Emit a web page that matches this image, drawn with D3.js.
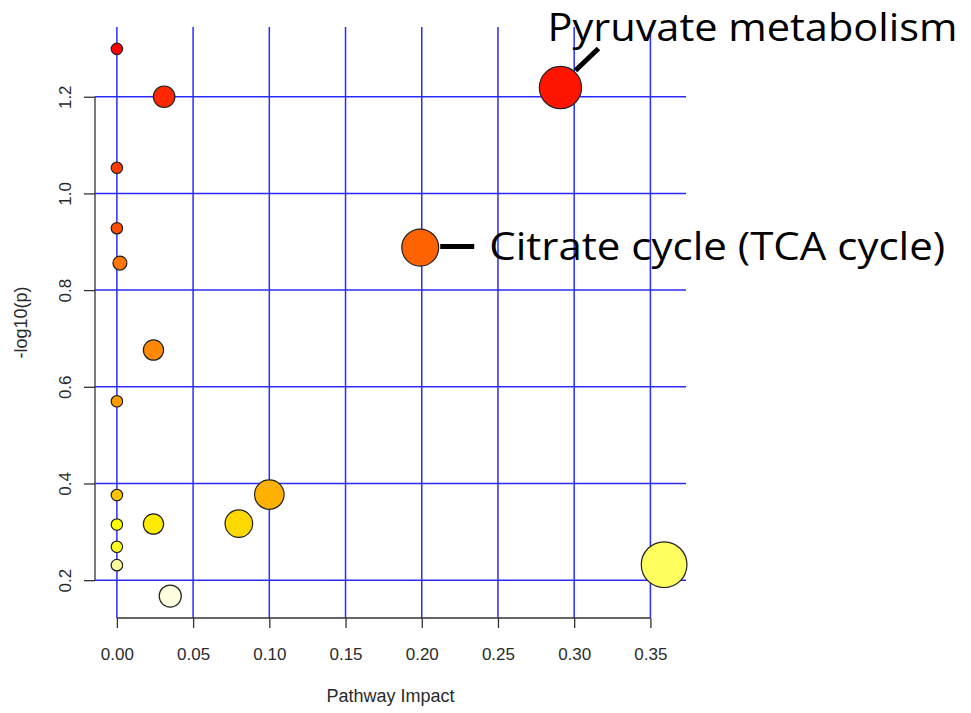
<!DOCTYPE html>
<html>
<head>
<meta charset="utf-8">
<script src="https://cdn.jsdelivr.net/npm/d3@7"></script>
<style>
  body { margin: 0; background: #fff; }
  svg { display: block; }
  .tick text { font-family: "Liberation Sans", Arial, sans-serif; font-size: 17px; fill: #2a2a2a; }
  .tick line { stroke: #333; stroke-width: 1.3; }
</style>
</head>
<body>
<div id="main"></div>
<script>
// pathways, sorted by p value (most significant first) like the metaboanalyst output
const pathways = ["", "Pyruvate metabolism", "", "", "", "Citrate cycle (TCA cycle)", "", "", "",
                  "", "", "", "", "", "", "", "", ""];
const impact  = [0, 0.291, 0.031, 0, 0, 0.199, 0.002, 0.024, 0, 0.100, 0, 0.080, 0.024, 0, 0, 0.359, 0, 0.035];
const negLogP = [1.299, 1.219, 1.200, 1.053, 0.928, 0.888, 0.856, 0.676, 0.570, 0.377, 0.376, 0.317, 0.316, 0.315, 0.269, 0.232, 0.231, 0.167];

const xTicks = [0, 0.05, 0.10, 0.15, 0.20, 0.25, 0.30, 0.35];
const yTicks = [0.2, 0.4, 0.6, 0.8, 1.0, 1.2];

// hand placed callouts (offsets from the point, in px)
const callouts = {
  "Pyruvate metabolism":       { line: [15, -17, 38, -39], text: [-13, -47], len: 410 },
  "Citrate cycle (TCA cycle)": { line: [20, -1, 54, -1],   text: [69, 12],   len: 456 }
};

const width = 971;
const height = 713;
const plot = { left: 95, right: 686, top: 27, bottom: 618 };

// R's heat.colors(n)
function heatColors(n) {
  const j = Math.floor(n / 4), i = n - j;
  const out = [];
  for (let k = 0; k < i; k++) out.push(d3.hsl(60 * k / (i - 1), 1, 0.5).formatHex());
  for (let k = 0; k < j; k++) {
    const from = 1 - 1 / (2 * j), to = 1 / (2 * j);
    const s = j === 1 ? from : from + (to - from) * k / (j - 1);
    out.push(d3.hsl(60, 1, 1 - s / 2).formatHex());
  }
  return out;
}

const data = impact.map((d, i) => ({ name: pathways[i], x: d, y: negLogP[i] }));
const colors = heatColors(data.length);

// R pads the data range by 4% on each side
const pad = (ext) => { const r = ext[1] - ext[0]; return [ext[0] - 0.04 * r, ext[1] + 0.04 * r]; };

const x = d3.scaleLinear().domain(pad(d3.extent(impact))).range([plot.left, plot.right]);
const y = d3.scaleLinear().domain(pad(d3.extent(negLogP))).range([plot.bottom, plot.top]);

// circle radius in x units, sqrt of impact
const sq = impact.map(Math.sqrt);
const sqExt = d3.extent(sq);
const rData = d3.scaleLinear().domain(sqExt)
  .range([(sqExt[1] - sqExt[0]) / 160, (sqExt[1] - sqExt[0]) / 40]);
const rPx = (d) => x(rData(Math.sqrt(d))) - x(0);

const svg = d3.select('#main')
  .append('svg')
  .attr('width', width)
  .attr('height', height);

// blue grid
const grid = svg.append('g').attr('stroke', '#2b2bff').attr('stroke-width', 1.5);
grid.selectAll('.gx')
  .data(xTicks)
  .enter()
  .append('line')
  .attr('x1', (d) => x(d)).attr('x2', (d) => x(d))
  .attr('y1', plot.top).attr('y2', plot.bottom);
grid.selectAll('.gy')
  .data(yTicks)
  .enter()
  .append('line')
  .attr('y1', (d) => y(d)).attr('y2', (d) => y(d))
  .attr('x1', plot.left).attr('x2', plot.right);

// axes, R style: line only between first and last tick
const xAxis = svg.append('g')
  .attr('transform', `translate(0,${plot.bottom})`)
  .call(d3.axisBottom(x).tickValues(xTicks).tickSize(10).tickFormat(d3.format('.2f')));
xAxis.select('.domain').remove();
xAxis.selectAll('.tick text').attr('y', 30);
xAxis.append('line')
  .attr('x1', x(xTicks[0])).attr('x2', x(xTicks[xTicks.length - 1]))
  .attr('stroke', '#333').attr('stroke-width', 1.3);

const yAxis = svg.append('g')
  .attr('transform', `translate(${plot.left},0)`)
  .call(d3.axisLeft(y).tickValues(yTicks).tickSize(11).tickFormat(d3.format('.1f')));
yAxis.select('.domain').remove();
yAxis.selectAll('.tick text')
  .attr('transform', 'rotate(-90)')
  .attr('x', 0)
  .attr('y', -24)
  .attr('dy', 0)
  .attr('text-anchor', 'middle');
yAxis.append('line')
  .attr('y1', y(yTicks[0])).attr('y2', y(yTicks[yTicks.length - 1]))
  .attr('stroke', '#333').attr('stroke-width', 1.3);

// axis titles
svg.append('text')
  .attr('x', (plot.left + plot.right) / 2)
  .attr('y', 702)
  .attr('text-anchor', 'middle')
  .style('font-family', '"Liberation Sans", Arial, sans-serif')
  .style('font-size', '18px')
  .style('fill', '#2a2a2a')
  .text('Pathway Impact');

svg.append('text')
  .attr('transform', `translate(27,${(plot.top + plot.bottom) / 2}) rotate(-90)`)
  .attr('text-anchor', 'middle')
  .style('font-family', '"Liberation Sans", Arial, sans-serif')
  .style('font-size', '18px')
  .style('fill', '#2a2a2a')
  .text('-log10(p)');

// pathway circles
svg.append('g')
  .selectAll('circle')
  .data(data)
  .enter()
  .append('circle')
  .attr('cx', (d) => x(d.x))
  .attr('cy', (d) => y(d.y))
  .attr('r', (d) => rPx(d.x))
  .attr('fill', (d, i) => colors[i])
  .attr('stroke', '#222')
  .attr('stroke-width', 1.2);

// callouts
const labelled = data.filter((d) => callouts[d.name]);
const ann = svg.append('g');
labelled.forEach((d) => {
  const c = callouts[d.name];
  const px = x(d.x), py = y(d.y);
  ann.append('line')
    .attr('x1', px + c.line[0]).attr('y1', py + c.line[1])
    .attr('x2', px + c.line[2]).attr('y2', py + c.line[3])
    .attr('stroke', '#000').attr('stroke-width', 5);
  ann.append('text')
    .attr('x', px + c.text[0])
    .attr('y', py + c.text[1])
    .attr('textLength', c.len)
    .attr('lengthAdjust', 'spacingAndGlyphs')
    .style('font-family', '"Open Sans", sans-serif')
    .style('font-size', '38px')
    .style('fill', '#000')
    .text(d.name);
});
</script>
</body>
</html>
